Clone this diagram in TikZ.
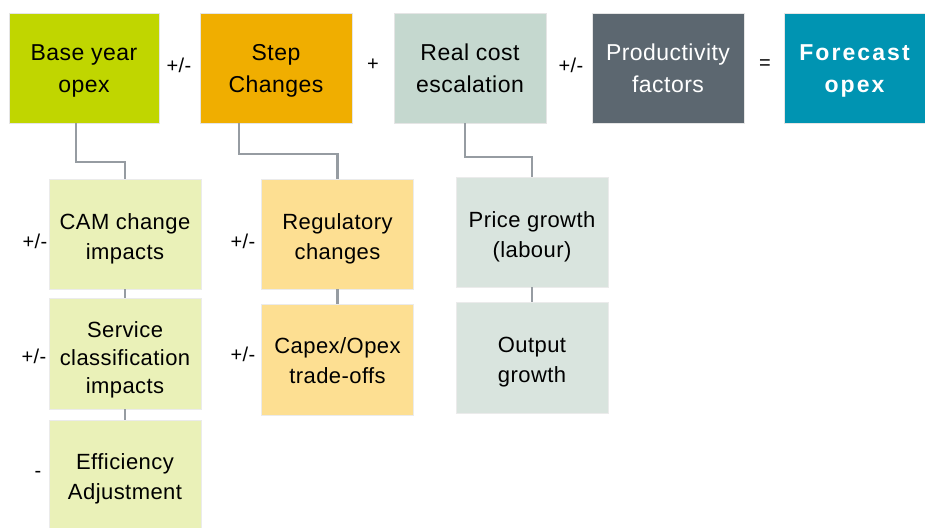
\documentclass[tikz,border=0pt]{standalone}
\usepackage{fontspec}
\setmainfont{Liberation Sans}[LetterSpace=2]
\newfontfamily\forefont{Liberation Sans}[LetterSpace=9]
\definecolor{cBase}{RGB}{192,214,0}
\definecolor{cStep}{RGB}{240,174,0}
\definecolor{cReal}{RGB}{197,216,207}
\definecolor{cProd}{RGB}{92,103,112}
\definecolor{cFore}{RGB}{0,148,178}
\definecolor{cBaseL}{RGB}{234,241,184}
\definecolor{cStepL}{RGB}{253,223,146}
\definecolor{cRealL}{RGB}{217,228,222}
\definecolor{cLine}{RGB}{150,156,162}
\tikzset{
  topbox/.style={rectangle, draw=black!10, line width=0.6pt, minimum height=110pt, inner sep=0pt},
  subbox/.style={rectangle, draw=black!8, line width=0.6pt, minimum width=152pt, inner sep=0pt},
  toptext/.style={inner sep=0pt, align=center, font=\fontsize{23}{32}\selectfont},
  subtext/.style={inner sep=0pt, align=center, font=\fontsize{22}{30}\selectfont},
  oper/.style={font=\fontsize{20}{22}\selectfont, inner sep=0pt},
  conn/.style={draw=cLine, line width=2.4pt}
}
\begin{document}
\begin{tikzpicture}[x=1pt,y=-1pt]
\useasboundingbox (0,0) rectangle (925,527);
% top row
\node[topbox, fill=cBase, minimum width=150pt] (base) at (84,68) {};
\node[topbox, fill=cStep, minimum width=152pt] (step) at (276,68) {};
\node[topbox, fill=cReal, minimum width=152pt] (real) at (470,68) {};
\node[topbox, fill=cProd, minimum width=152pt] (prod) at (668,68) {};
\node[topbox, fill=cFore, minimum width=141pt] (fore) at (854.5,68) {};
\node[toptext] (baset) at ([yshift=-3pt]base.center) {Base year\\opex};
\node[toptext] (stept) at ([yshift=-3pt]step.center) {Step\\Changes};
\node[toptext] (realt) at (real.center) {Real cost\\escalation};
\node[toptext, text=white] (prodt) at (prod.center) {Productivity\\factors};
\node[toptext, text=white, font=\fontsize{23}{32}\forefont\bfseries] (foret) at ([yshift=-3pt]fore.center) {Forecast\\opex};
\node[oper] (op1) at (179,65) {+/-};
\node[oper] (op2) at (373,65) {+};
\node[oper] (op3) at (571,65) {+/-};
\node[oper] (op4) at (765,65) {=};
% sub boxes
\node[subbox, fill=cBaseL, minimum height=110pt] (cam) at (125,234) {};
\node[subbox, fill=cBaseL, minimum height=111pt] (serv) at (125,353.5) {};
\node[subbox, fill=cBaseL, minimum height=108pt] (eff) at (125,474) {};
\node[subbox, fill=cStepL, minimum height=110pt] (reg) at (337.5,234) {};
\node[subbox, fill=cStepL, minimum height=111pt] (capex) at (337.5,359.5) {};
\node[subbox, fill=cRealL, minimum height=110pt] (price) at (532,232) {};
\node[subbox, fill=cRealL, minimum height=111pt] (out) at (532,357.5) {};
\node[subtext] (camt) at ([yshift=-5pt]cam.center) {CAM change\\impacts};
\node[subtext, font=\fontsize{22}{28}\selectfont] (servt) at ([yshift=-6pt]serv.center) {Service\\classification\\impacts};
\node[subtext] (efft) at ([yshift=-5pt]eff.center) {Efficiency\\Adjustment};
\node[subtext] (regt) at ([yshift=-5pt]reg.center) {Regulatory\\changes};
\node[subtext] (capext) at ([yshift=-1pt]capex.center) {Capex/Opex\\trade-offs};
\node[subtext] (pricet) at ([yshift=-5pt]price.center) {Price growth\\(labour)};
\node[subtext] (outt) at ([yshift=-5pt]out.center) {Output\\growth};
% sub labels
\node[oper] (l1) at (35,241) {+/-};
\node[oper] (l2) at (34,356) {+/-};
\node[oper] (l3) at (38,474) {-};
\node[oper] (l4) at (243,241) {+/-};
\node[oper] (l5) at (243,354) {+/-};
% connectors
\coordinate (b1) at (76,162);
\coordinate (s1) at (239,154);
\coordinate (r1) at (465,157);
\draw[conn] (base.south -| b1) -- (b1) -| (cam.north);
\draw[conn] (step.south -| s1) -- (s1) -| (reg.north);
\draw[conn] (real.south -| r1) -- (r1) -| (price.north);
\draw[conn] (cam.south) -- (serv.north);
\draw[conn] (serv.south) -- (eff.north);
\draw[conn] (reg.south) -- (capex.north);
\draw[conn] (price.south) -- (out.north);
\end{tikzpicture}
\end{document}
